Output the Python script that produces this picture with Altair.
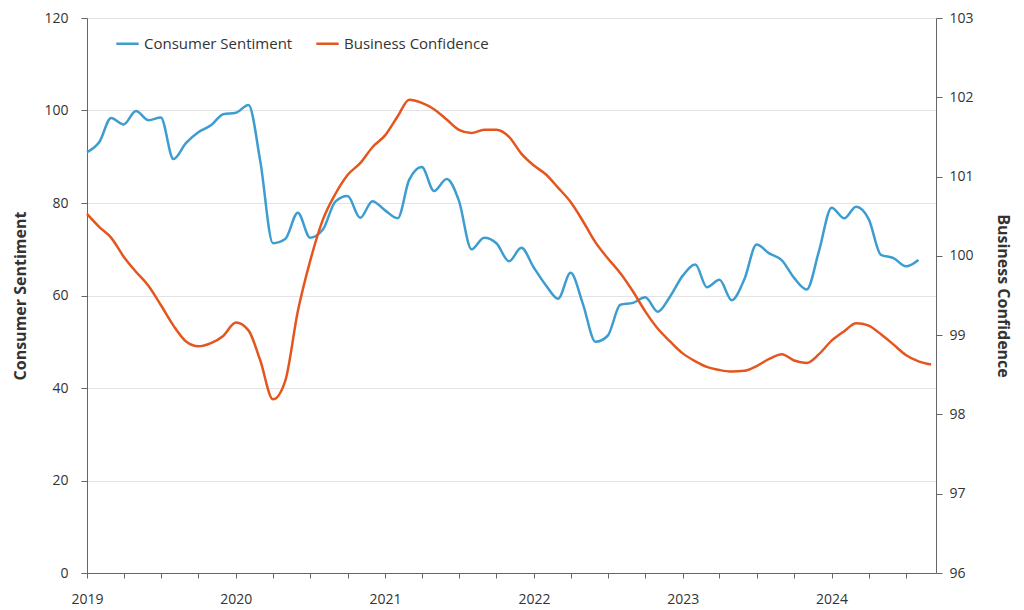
import altair as alt
import pandas as pd

consumer_sentiment = [
    91.0, 93.3, 98.4, 97.0, 99.9, 97.9, 98.5, 89.5, 93.0, 95.3, 96.8, 99.2,
    99.5, 101.2, 89.0, 71.3, 72.2, 77.9, 72.5, 74.2, 80.3, 81.5, 76.8, 80.4,
    78.4, 76.7, 85.0, 87.8, 82.6, 85.2, 80.5, 70.0, 72.5, 71.3, 67.4, 70.3,
    66.0, 62.0, 59.3, 64.9, 58.2, 50.0, 51.3, 58.0, 58.4, 59.6, 56.5, 59.8,
    64.3, 66.7, 61.8, 63.4, 59.0, 63.5, 71.0, 69.1, 67.6, 63.8, 61.3, 69.6,
    79.0, 76.7, 79.2, 76.5, 68.8, 68.1, 66.3, 67.7,
]
business_confidence = [
    100.53, 100.36, 100.23, 99.99, 99.80, 99.62, 99.38, 99.12, 98.92, 98.86, 98.90, 98.99,
    99.16, 99.06, 98.68, 98.19, 98.42, 99.30, 99.93, 100.45, 100.78, 101.02, 101.17, 101.37,
    101.52, 101.76, 101.97, 101.93, 101.85, 101.72, 101.59, 101.55, 101.59, 101.59, 101.50, 101.29,
    101.14, 101.02, 100.86, 100.68, 100.44, 100.17, 99.97, 99.78, 99.55, 99.30, 99.08, 98.92,
    98.77, 98.67, 98.60, 98.56, 98.54, 98.55, 98.61, 98.70, 98.76, 98.68, 98.65, 98.76,
    98.93, 99.05, 99.15, 99.12, 99.01, 98.88, 98.75, 98.67, 98.63,
]
series_names = ["Consumer Sentiment", "Business Confidence"]
series_colors = ["#3d9dd0", "#e4561e"]

cs_dates = pd.date_range("2019-01-01", periods=len(consumer_sentiment), freq="MS")
bc_dates = pd.date_range("2019-01-01", periods=len(business_confidence), freq="MS")

df = pd.concat([
    pd.DataFrame({"date": cs_dates, "value": consumer_sentiment, "series": series_names[0]}),
    pd.DataFrame({"date": bc_dates, "value": business_confidence, "series": series_names[1]}),
])

quarter_ticks = [d.strftime("%Y-%m-%d") for d in pd.date_range("2019-01-01", "2024-07-01", freq="QS")]

FONT = "Open Sans"
AXIS_COLOR = "#666666"
TEXT_COLOR = "#333333"

x_enc = alt.X(
    "date:T",
    scale=alt.Scale(domain=["2019-01-01", "2024-09-13"]),
    axis=alt.Axis(
        values=quarter_ticks,
        labelExpr="month(datum.value) == 0 ? timeFormat(datum.value, '%Y') : ''",
        title=None, grid=False, tickSize=5, labelPadding=14,
        labelFontSize=14, labelColor=TEXT_COLOR,
        domainColor=AXIS_COLOR, tickColor=AXIS_COLOR, labelFlush=False,
    ),
)

color_enc = alt.Color(
    "series:N",
    scale=alt.Scale(domain=series_names, range=series_colors),
    legend=alt.Legend(
        title=None, orient="none", direction="horizontal",
        legendX=28, legendY=13, symbolType="stroke", symbolSize=500,
        symbolStrokeWidth=2.5, labelFontSize=15, labelColor=TEXT_COLOR,
        columnPadding=18, labelFont=FONT,
    ),
)

base = alt.Chart(df)

cs_line = base.transform_filter(alt.datum.series == series_names[0]).mark_line(
    interpolate="monotone", strokeWidth=2.5
).encode(
    x=x_enc,
    y=alt.Y(
        "value:Q",
        scale=alt.Scale(domain=[0, 120], nice=False, zero=False),
        axis=alt.Axis(
            orient="left", title="Consumer Sentiment", values=[0, 20, 40, 60, 80, 100, 120],
            grid=True, gridColor="#e3e3e3", tickSize=6, labelPadding=13,
            labelFontSize=14, labelColor=TEXT_COLOR, titleFontSize=16,
            titleFontWeight="bold", titleColor=TEXT_COLOR, titlePadding=15,
            domainColor=AXIS_COLOR, tickColor=AXIS_COLOR,
        ),
    ),
    color=color_enc,
)

bc_line = base.transform_filter(alt.datum.series == series_names[1]).mark_line(
    interpolate="monotone", strokeWidth=2.5
).encode(
    x=x_enc,
    y=alt.Y(
        "value:Q",
        scale=alt.Scale(domain=[96, 103], nice=False, zero=False),
        axis=alt.Axis(
            orient="right", title="Business Confidence", values=[96, 97, 98, 99, 100, 101, 102, 103],
            grid=False, tickSize=6, labelPadding=7,
            labelFontSize=14, labelColor=TEXT_COLOR, titleFontSize=16,
            titleFontWeight="bold", titleColor=TEXT_COLOR, titlePadding=21,
            domainColor=AXIS_COLOR, tickColor=AXIS_COLOR,
        ),
    ),
    color=color_enc,
)

chart = alt.layer(cs_line, bc_line).resolve_scale(y="independent").properties(
    width=849, height=555,
    autosize=alt.AutoSizeParams(type="none"),
    padding={"left": 79, "top": 10, "right": 80, "bottom": 35},
).configure(font=FONT).configure_view(stroke=None)

chart.save("out.html", embed_options={"renderer": "svg", "actions": False})
